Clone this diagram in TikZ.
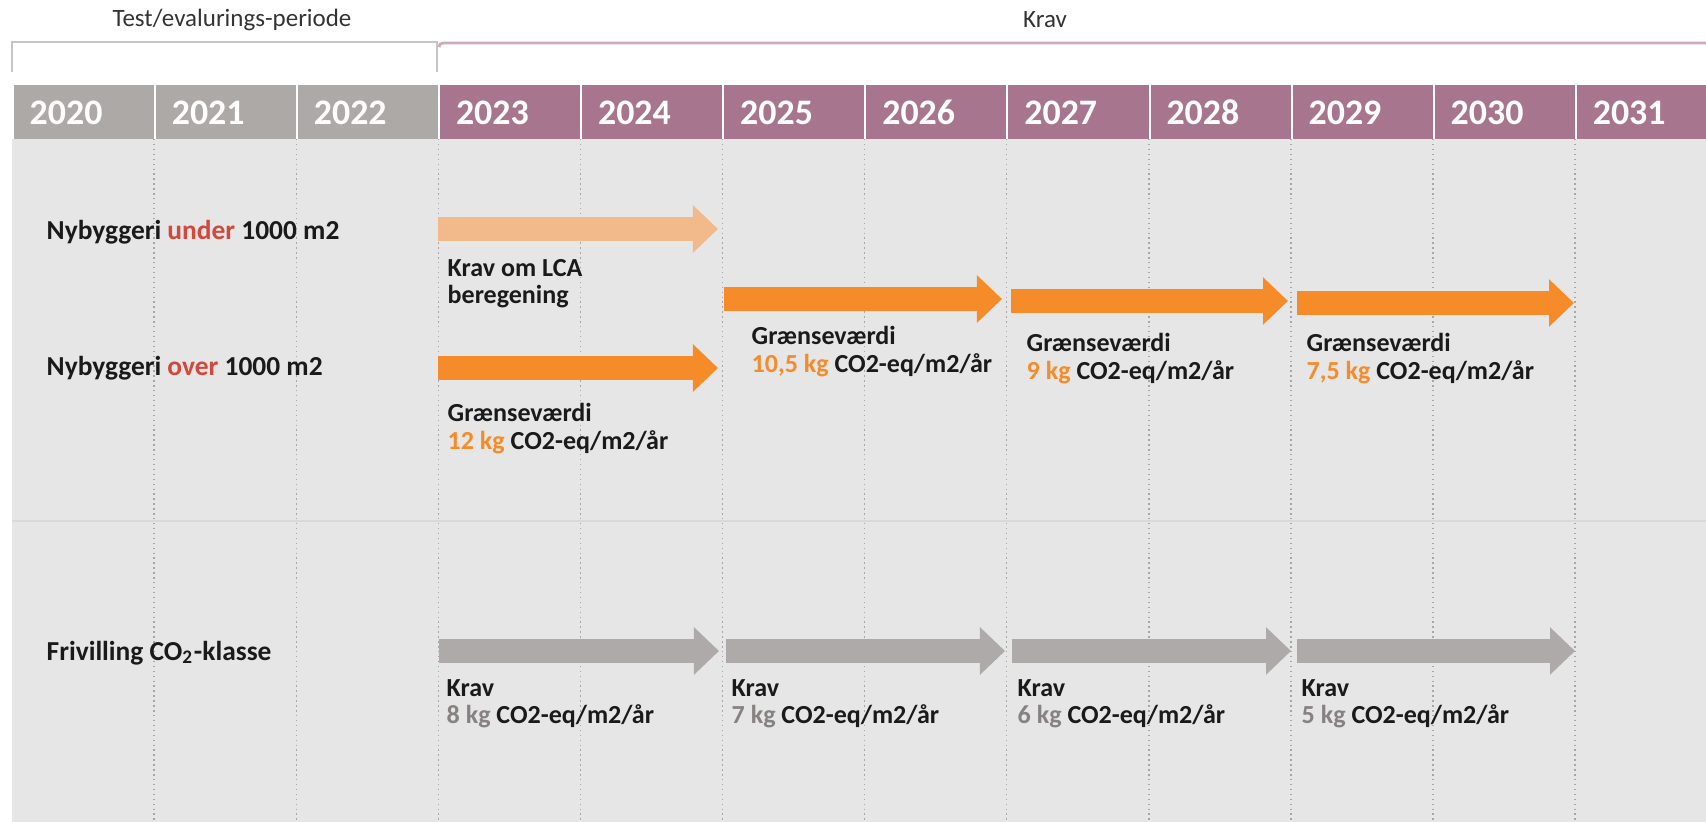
\documentclass[tikz,border=0pt]{standalone}
\usepackage{fontspec}
\setmainfont{Carlito}
\usetikzlibrary{arrows.meta}
\definecolor{headgray}{HTML}{ADA9A7}
\definecolor{headpurple}{HTML}{A8758F}
\definecolor{bggray}{HTML}{E6E6E6}
\definecolor{dotgray}{HTML}{A6A6A6}
\definecolor{lcaorange}{HTML}{F2B98A}
\definecolor{kravorange}{HTML}{F68B2A}
\definecolor{kravgray}{HTML}{AEAAA9}
\definecolor{sizered}{HTML}{D0493C}
\definecolor{numgray}{HTML}{878282}
\definecolor{txt}{HTML}{1A1A1A}
\begin{document}
\begin{tikzpicture}[x=0.01cm,y=-0.01cm,
    yearcell/.style={anchor=west,text=white,font=\fontsize{10.2}{12}\selectfont\bfseries,
      minimum width=1.4cm,minimum height=0.53cm,inner xsep=0.16cm,inner ysep=0pt,
      text width=1.08cm,text height=0.7em,text depth=0pt,align=left},
    rowlabel/.style={anchor=west,inner sep=0pt,text=txt,font=\fontsize{7.8}{9}\selectfont\bfseries},
    sublabel/.style={anchor=north west,inner sep=0pt,align=left,text=txt,
      font=\fontsize{7.4}{7.7}\selectfont\bfseries},
    toplabel/.style={text=black!80,font=\fontsize{7.1}{8}\selectfont},
    bar/.style={line width=0.24cm,-{Triangle[length=0.25cm,width=0.46cm]}}]
  \useasboundingbox (0,0) rectangle (1706,822);
  \clip (0,0) rectangle (1706,822);

  % periods
  \node[toplabel] (testper) at (232,20) {Test/evalurings-periode};
  \node[toplabel] (kravper) at (1045,20) {Krav};
  \draw[gray!45,line width=0.6pt] (12,72) -- (12,42) -- (437,42) -- (437,72);
  \draw[headpurple!60,line width=0.8pt] (439,47) to[out=90,in=180] (443,43) -- (1706,43);

  % years
  \foreach \yr [count=\i from 0] in {2020,2021,2022}
    \node[yearcell,fill=headgray] (y\yr) at (13+142.1*\i,112) {\yr};
  \foreach \yr [count=\i from 3] in {2023,...,2031}
    \node[yearcell,fill=headpurple] (y\yr) at (13+142.1*\i,112) {\yr};

  % body
  \fill[bggray] (12,139) rectangle (1706,822);
  \foreach \i in {1,...,11}
    \draw[dotgray,line width=0.4pt,densely dotted] (12+142.1*\i,139) -- (12+142.1*\i,822);
  \draw[gray!30,line width=0.8pt] (12,521) -- (1706,521);

  \node[rowlabel] (under) at (46,232) {Nybyggeri \textcolor{sizered}{under} 1000 m2};
  \node[rowlabel] (over) at (46,368) {Nybyggeri \textcolor{sizered}{over} 1000 m2};
  \node[rowlabel] (frivillig) at (46,653) {Frivilling CO\textsubscript{2}-klasse};

  % krav for nybyggeri
  \draw[bar,lcaorange] (438,229) -- (718,229);
  \draw[bar,kravorange] (438,368) -- (718,368);
  \draw[bar,kravorange] (724,299) -- (1002,299);
  \draw[bar,kravorange] (1011,301) -- (1288,301);
  \draw[bar,kravorange] (1297,303) -- (1574,303);

  \node[sublabel] (lca) at (447,259) {Krav om LCA\\beregening};
  \node[sublabel] (gv2023) at (447,403) {Grænseværdi\\\textcolor{kravorange}{12 kg} CO2-eq/m2/år};
  \node[sublabel] (gv2025) at (751,326) {Grænseværdi\\\textcolor{kravorange}{10,5 kg} CO2-eq/m2/år};
  \node[sublabel] (gv2027) at (1026,333) {Grænseværdi\\\textcolor{kravorange}{9 kg} CO2-eq/m2/år};
  \node[sublabel] (gv2029) at (1306,333) {Grænseværdi\\\textcolor{kravorange}{7,5 kg} CO2-eq/m2/år};

  % frivillig klasse
  \foreach \a/\b in {439/719,726/1005,1012/1291,1297/1575}
    \draw[bar,kravgray] (\a,651) -- (\b,651);
  \foreach \x/\v in {446/8,731/7,1017/6,1301/5}
    \node[sublabel] (krav\v) at (\x,679) {Krav\\\textcolor{numgray}{\v{} kg} CO2-eq/m2/år};
\end{tikzpicture}
\end{document}
